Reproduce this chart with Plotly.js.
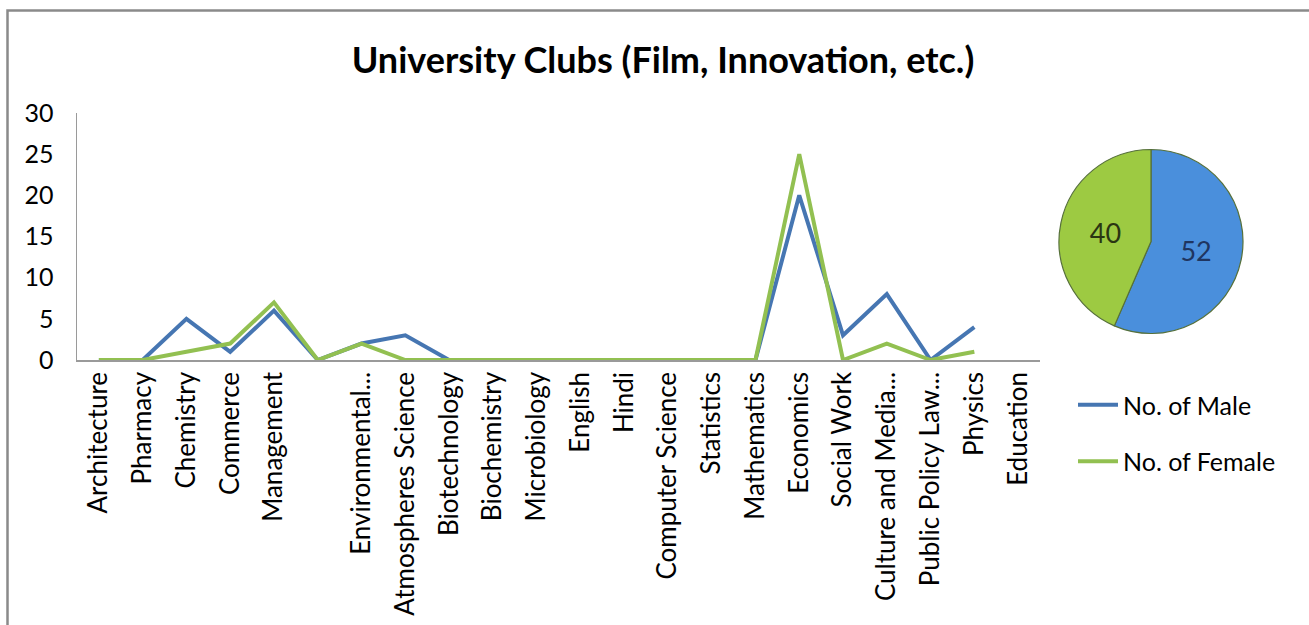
<!DOCTYPE html>
<html>
<head>
<meta charset="utf-8">
<script src="https://cdn.plot.ly/plotly-3.0.1.min.js"></script>
<style>html,body{margin:0;padding:0;background:#fff;}#chart{width:1309px;height:625px;}</style>
</head>
<body>
<div id="chart"></div>
<script>
const categories = ["Architecture","Pharmacy","Chemistry","Commerce","Management"," ",
  "Environmental...","Atmospheres Science","Biotechnology","Biochemistry","Microbiology",
  "English","Hindi","Computer Science","Statistics","Mathematics","Economics","Social Work",
  "Culture and Media...","Public Policy Law...","Physics","Education"];
const maleValues   = [0,0,5,1,6,0,2,3,0,0,0,0,0,0,0,0,20,3,8,0,4,null];
const femaleValues = [0,0,1,2,7,0,2,0,0,0,0,0,0,0,0,0,25,0,2,0,1,null];
const pieLabels = ["No. of Male","No. of Female"];
const pieValues = [52,40];
const yTicks = [0,5,10,15,20,25,30];

const W = 1309, H = 625;
const FONT = "Lato, 'Open Sans', sans-serif";
const blueLine = "#4676b2", greenLine = "#92c051";

const traces = [
  {type:"scatter", mode:"lines", name:"No. of Male", x:categories, y:maleValues,
   line:{color:blueLine, width:4}, legendgroup:"m", hoverinfo:"x+y"},
  {type:"scatter", mode:"lines", name:"No. of Female", x:categories, y:femaleValues,
   line:{color:greenLine, width:4}, legendgroup:"f", hoverinfo:"x+y"},
  {type:"pie", labels:pieLabels, values:pieValues, sort:false, direction:"clockwise", rotation:0,
   showlegend:false, textinfo:"value", textposition:"inside", insidetextorientation:"horizontal",
   marker:{colors:["#4a8fdc","#9dca42"], line:{color:"#56703a", width:1.2}},
   textfont:{family:FONT, size:27, color:["#1f3560","#2a3512"]},
   domain:{x:[1059/W,1243/W], y:[1-334/H,1-149/H]}}
];

const layout = {
  width:W, height:H,
  margin:{l:0,r:0,t:0,b:0},
  paper_bgcolor:"#fff", plot_bgcolor:"rgba(0,0,0,0)",
  font:{family:FONT, color:"#000"},
  title:{text:"<b>University Clubs (Film, Innovation, etc.)</b>", font:{family:FONT, size:36, color:"#000"},
    x:663/W, xanchor:"center", y:1-60/H, yanchor:"middle", xref:"paper", yref:"paper"},
  xaxis:{domain:[77/W,1040/W], type:"category", categoryorder:"array", categoryarray:categories,
    range:[-0.5,21.5], showline:true, linecolor:"#9a9a9a", linewidth:1.5, showgrid:false, zeroline:false,
    ticks:"", tickangle:-90, tickfont:{family:FONT, size:26, color:"#000"}, automargin:false, fixedrange:true},
  yaxis:{domain:[1-360/H,1-113/H], range:[0,30], tickvals:yTicks, showline:true, linecolor:"#9a9a9a",
    linewidth:1.5, showgrid:false, zeroline:false, ticks:"", ticklabelstandoff:17,
    tickfont:{family:FONT, size:25, color:"#000"}, automargin:false, fixedrange:true},
  showlegend:true,
  legend:{x:1073/W, y:1-382/H, xanchor:"left", yanchor:"top", traceorder:"grouped", tracegroupgap:21,
    font:{family:FONT, size:25, color:"#000"}, bgcolor:"rgba(0,0,0,0)", itemwidth:40},
  shapes:[{type:"rect", xref:"paper", yref:"paper", x0:7.5/W, x1:1.2, y0:-0.2, y1:1-10.5/H,
    line:{color:"#8a8a8a", width:2.5}, fillcolor:"rgba(0,0,0,0)", layer:"below"}]
};

Plotly.newPlot("chart", traces, layout, {displayModeBar:false, staticPlot:true});
</script>
</body>
</html>
